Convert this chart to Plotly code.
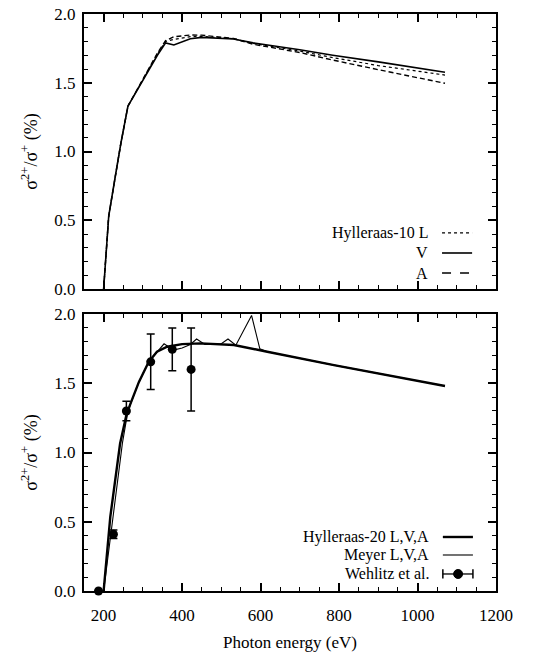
import plotly.graph_objects as go

# ---------------- data ----------------
# Top panel: Hylleraas-10 (L, V, A)
energy_h10 = [200, 213, 231, 244, 262, 294, 316, 337, 358, 379, 421, 450, 531, 581, 700, 784, 900, 1070]
h10_L = [0, 0.53, 0.84, 1.06, 1.33, 1.49, 1.605, 1.71, 1.80, 1.815, 1.835, 1.838, 1.82, 1.786, 1.73, 1.683, 1.625, 1.556]
h10_V = [0, 0.53, 0.84, 1.06, 1.33, 1.49, 1.60, 1.70, 1.79, 1.775, 1.82, 1.83, 1.818, 1.79, 1.74, 1.70, 1.652, 1.576]
h10_A = [0, 0.53, 0.84, 1.06, 1.33, 1.495, 1.61, 1.715, 1.806, 1.835, 1.847, 1.846, 1.822, 1.78, 1.72, 1.665, 1.595, 1.496]

# Bottom panel: Hylleraas-20 L,V,A
energy_h20 = [200, 217, 242, 258, 268, 290, 315, 336, 362, 400, 447, 532, 617, 787, 1070]
h20 = [0, 0.535, 1.065, 1.27, 1.35, 1.51, 1.655, 1.728, 1.764, 1.783, 1.788, 1.776, 1.728, 1.631, 1.48]

# Meyer L,V,A
energy_meyer = [200, 224, 248, 262, 290, 315, 337, 354, 378, 400, 421, 437, 458, 500, 517, 537, 577, 598, 617, 787, 1070]
meyer = [0, 0.55, 1.07, 1.30, 1.51, 1.655, 1.73, 1.785, 1.74, 1.755, 1.78, 1.82, 1.78, 1.785, 1.82, 1.775, 1.99, 1.75, 1.728, 1.631, 1.48]

# Wehlitz et al. experiment
energy_exp = [187, 225, 258, 320, 375, 423]
ratio_exp = [0, 0.41, 1.30, 1.655, 1.745, 1.60]
err_exp = [0, 0.03, 0.07, 0.2, 0.155, 0.3]

x_ticks = [200, 400, 600, 800, 1000, 1200]
y_ticks = [0.0, 0.5, 1.0, 1.5, 2.0]
y_ticklabels = ["0.0", "0.5", "1.0", "1.5", "2.0"]

FONT = "Liberation Serif"
BLACK = "black"

fig = go.Figure()

# top panel traces
fig.add_trace(go.Scatter(x=energy_h10, y=h10_L, mode="lines", xaxis="x2", yaxis="y2",
                         line=dict(color=BLACK, width=1.2, dash="dot"), showlegend=False))
fig.add_trace(go.Scatter(x=energy_h10, y=h10_V, mode="lines", xaxis="x2", yaxis="y2",
                         line=dict(color=BLACK, width=1.6), showlegend=False))
fig.add_trace(go.Scatter(x=energy_h10, y=h10_A, mode="lines", xaxis="x2", yaxis="y2",
                         line=dict(color=BLACK, width=1.4, dash="5px,3px"), showlegend=False))

# bottom panel traces
fig.add_trace(go.Scatter(x=energy_meyer, y=meyer, mode="lines", xaxis="x", yaxis="y",
                         line=dict(color=BLACK, width=1.1), showlegend=False))
fig.add_trace(go.Scatter(x=energy_h20, y=h20, mode="lines", xaxis="x", yaxis="y",
                         line=dict(color=BLACK, width=2.4), showlegend=False))
fig.add_trace(go.Scatter(x=energy_exp, y=ratio_exp, mode="markers", xaxis="x", yaxis="y",
                         marker=dict(color=BLACK, size=9),
                         error_y=dict(type="data", array=err_exp, visible=True,
                                      color=BLACK, thickness=1.5, width=4),
                         cliponaxis=False, showlegend=False))

axis_common = dict(
    showline=True, linecolor=BLACK, linewidth=2, mirror="ticks",
    ticks="inside", ticklen=8, tickwidth=1.5, tickcolor=BLACK,
    showgrid=False, zeroline=False, automargin=False,
    tickfont=dict(family=FONT, size=17, color=BLACK),
)

xaxis_common = dict(axis_common, range=[150, 1200], tickvals=x_ticks,
                    minor=dict(dtick=50, tick0=0, ticklen=4, tickwidth=1.2, tickcolor=BLACK, ticks="inside"))
yaxis_common = dict(axis_common, range=[0, 2.0], tickvals=y_ticks, ticktext=y_ticklabels,
                    minor=dict(dtick=0.1, tick0=0, ticklen=4, tickwidth=1.2, tickcolor=BLACK, ticks="inside"),
                    ticklabelstandoff=3)

ytitle = "σ<sup>2+</sup>/σ<sup>+</sup> (%)"

fig.update_layout(
    width=535, height=652,
    margin=dict(l=84, r=39, t=14, b=61),
    paper_bgcolor="white", plot_bgcolor="white",
    font=dict(family=FONT, size=17, color=BLACK),
    xaxis=dict(xaxis_common, anchor="y", ticklabelstandoff=8,
               title=dict(text="Photon energy (eV)", font=dict(family=FONT, size=17), standoff=12)),
    yaxis=dict(yaxis_common, domain=[0, 0.480], anchor="x",
               title=dict(text=ytitle, font=dict(family=FONT, size=18), standoff=12)),
    xaxis2=dict(xaxis_common, anchor="y2", showticklabels=False),
    yaxis2=dict(yaxis_common, domain=[0.5234, 1], anchor="x2",
                title=dict(text=ytitle, font=dict(family=FONT, size=18), standoff=12)),
    showlegend=False,
)

# ---- manual legends (text right, sample on the right) ----
annots = []
shapes = []
leg_font = dict(family=FONT, size=16, color=BLACK)

top_items = [("Hylleraas-10 L", "dot", 1.2), ("V", "solid", 1.6), ("A", "dash", 1.4)]
top_y = [0.6205, 0.5858, 0.5511]
for (txt, dash, w), yy in zip(top_items, top_y):
    annots.append(dict(text=txt, x=0.840, y=yy, xref="paper", yref="paper",
                       xanchor="right", yanchor="middle", showarrow=False, font=leg_font))
    shapes.append(dict(type="line", x0=0.869, x1=0.942, y0=yy, y1=yy, xref="paper", yref="paper",
                       line=dict(color=BLACK, width=w, dash=dash)))

bot_items = [("Hylleraas-20 L,V,A", 2.4), ("Meyer L,V,A", 1.1), ("Wehlitz et al.", 1.3)]
bot_y = [0.0936, 0.0624, 0.0295]
for (txt, w), yy in zip(bot_items, bot_y):
    annots.append(dict(text=txt, x=0.842, y=yy, xref="paper", yref="paper",
                       xanchor="right", yanchor="middle", showarrow=False, font=leg_font))
    shapes.append(dict(type="line", x0=0.871, x1=0.944, y0=yy, y1=yy, xref="paper", yref="paper",
                       line=dict(color=BLACK, width=w)))

# error-bar legend sample: caps + dot
wy = bot_y[2]
for xc in (0.871, 0.944):
    shapes.append(dict(type="line", x0=xc, x1=xc, y0=wy - 0.008, y1=wy + 0.008,
                       xref="paper", yref="paper", line=dict(color=BLACK, width=1.5)))
shapes.append(dict(type="circle", xref="paper", yref="paper", xsizemode="pixel", ysizemode="pixel",
                   xanchor=0.908, yanchor=wy, x0=-4.5, x1=4.5, y0=-4.5, y1=4.5,
                   fillcolor=BLACK, line=dict(color=BLACK, width=1)))

fig.update_layout(annotations=annots, shapes=shapes)

fig.write_html("out.html")
